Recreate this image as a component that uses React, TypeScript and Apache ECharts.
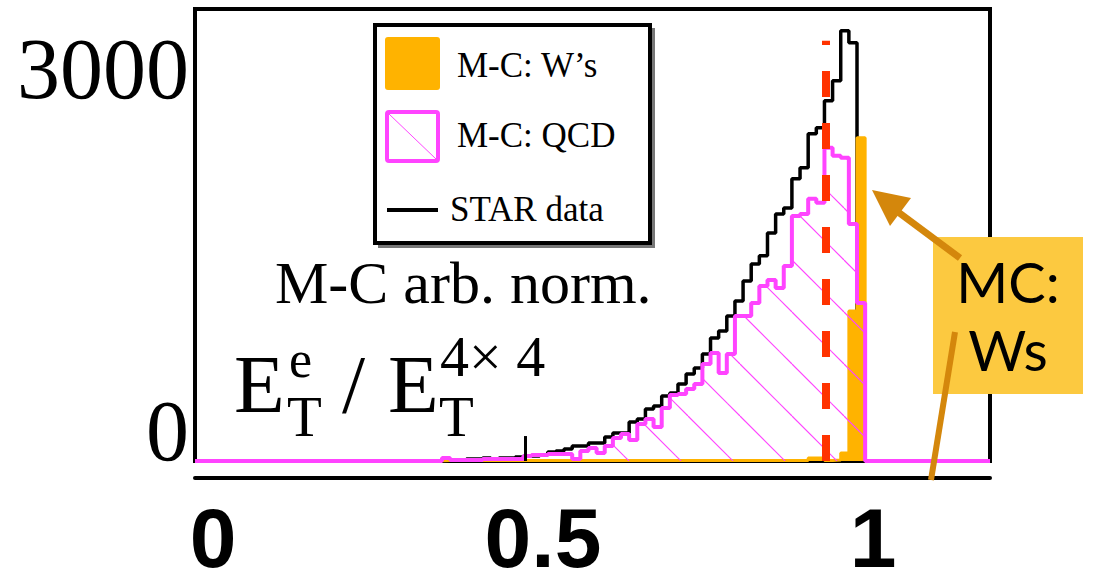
import React, { useEffect, useRef } from 'react';
import * as echarts from 'echarts';

// ---- data ----
const BIN_WIDTH = 0.0125;
const FIRST_BIN = 28; // lower edge of first listed bin = FIRST_BIN * BIN_WIDTH

// STAR data, bins 28..79
const DATA_COUNTS = [
  0, 8, 8, 8, 17, 17, 25, 17, 25, 25, 33, 42, 42, 50, 75, 83, 100, 125, 125, 149,
  149, 199, 232, 232, 324, 349, 432, 457, 540, 564, 639, 722, 772, 888, 1021, 1079,
  1204, 1328, 1494, 1635, 1702, 1892, 2050, 2100, 2341, 2432, 2714, 2764, 2988, 3154,
  3569, 3469,
];

// M-C QCD, bins 28..80
const QCD_COUNTS = [
  0, 25, 8, 8, 8, 8, 17, 17, 17, 17, 17, 42, 50, 50, 58, 58, 58, 17, 83, 108,
  66, 125, 191, 224, 174, 307, 349, 282, 440, 548, 556, 598, 639, 805, 896, 730,
  888, 1203, 1203, 1311, 1452, 1502, 1436, 1618, 2033, 2050, 2175, 2142, 2598, 2532,
  2515, 1967, 1311,
];

// M-C W's, bins 28..80
const W_COUNTS = [
  0, 4, 4, 4, 4, 4, 4, 4, 4, 4, 4, 4, 4, 4, 4, 4, 4, 4, 4, 4,
  4, 4, 4, 4, 4, 4, 4, 4, 4, 4, 4, 4, 4, 4, 4, 4, 4, 4, 4, 4,
  4, 4, 4, 4, 4, 4, 25, 25, 4, 8, 66, 1245, 2681,
];

const X_TICKS = [0, 0.5, 1];
const Y_TICKS = [0, 3000];
const CUT_VALUE = 0.952;
const CUT_TOP = 3486;
const SPIKE_X = 0.49;
const SPIKE_TOP = 207;
const LEGEND_LABELS = ['M-C: W\u2019s', 'M-C: QCD', 'STAR data'];
const NORM_TEXT = 'M-C arb. norm.';
const NOTE_TEXT = 'MC:\nWs';

// axis extents
const X_MIN = -0.0169;
const X_MAX = 1.2043;
const LABEL_X_MIN = -0.02727;
const LABEL_X_MAX = 1.1773;
const Y_MAX = 3750;

const ORANGE = '#ffb300';
const PINK = '#ff44ff';
const RED = '#ff3300';
const ARROW = '#d4870c';
const SERIF = '"Liberation Serif", "Times New Roman", serif';

function histPoints(counts: number[]): number[][] {
  const pts: number[][] = [[X_MIN, 0]];
  counts.forEach((c, i) => {
    pts.push([+((FIRST_BIN + i) * BIN_WIDTH).toFixed(5), c]);
  });
  pts.push([+((FIRST_BIN + counts.length) * BIN_WIDTH).toFixed(5), 0]);
  pts.push([X_MAX, 0]);
  return pts;
}

function makeHatch() {
  const size = 52;
  const c = document.createElement('canvas');
  c.width = size;
  c.height = size;
  const ctx = c.getContext('2d');
  if (ctx) {
    ctx.strokeStyle = PINK;
    ctx.lineWidth = 1.2;
    for (const o of [-size, 0, size]) {
      ctx.beginPath();
      ctx.moveTo(12 + o, 0);
      ctx.lineTo(12 + o + size, size);
      ctx.stroke();
    }
  }
  return { image: c, repeat: 'repeat', imageWidth: size, imageHeight: size };
}

function txt(text: string, x: number, y: number, font: string, extra: any = {}) {
  return {
    type: 'text',
    z: 130,
    style: {
      text,
      x,
      y,
      font,
      fill: '#000',
      align: 'left',
      verticalAlign: 'middle',
      textAlign: 'left',
      textVerticalAlign: 'middle',
      ...extra,
    },
  };
}

export default function App() {
  const ref = useRef<HTMLDivElement>(null);

  useEffect(() => {
    if (!ref.current) return;
    const chart = echarts.init(ref.current, undefined, { renderer: 'svg' });

    const option: any = {
      animation: false,
      backgroundColor: '#fff',
      grid: {
        left: 195,
        right: 104,
        top: 9,
        bottom: 123,
        show: true,
        borderColor: '#000',
        borderWidth: 4,
        backgroundColor: 'transparent',
      },
      xAxis: [
        {
          type: 'value',
          min: X_MIN,
          max: X_MAX,
          show: false,
        },
        {
          type: 'value',
          min: LABEL_X_MIN,
          max: LABEL_X_MAX,
          position: 'bottom',
          offset: 17,
          axisLine: { show: true, lineStyle: { color: '#000', width: 4 } },
          axisTick: { show: false },
          splitLine: { show: false },
          axisLabel: {
            customValues: X_TICKS,
            formatter: (v: number) => String(v),
            fontFamily: '"Liberation Sans", Arial, sans-serif',
            fontWeight: 'bold',
            fontSize: 84,
            lineHeight: 68,
            color: '#000',
            margin: 26,
          },
        },
      ],
      yAxis: {
        type: 'value',
        min: 0,
        max: Y_MAX,
        axisLine: { show: false },
        axisTick: { show: false },
        splitLine: { show: false },
        axisLabel: {
          customValues: Y_TICKS,
          formatter: (v: number) => String(v),
          fontFamily: SERIF,
          fontSize: 86,
          lineHeight: 60,
          verticalAlign: 'bottom',
          color: '#000',
          margin: 6,
        },
      },
      series: [
        {
          name: 'STAR data',
          type: 'line',
          xAxisIndex: 0,
          step: 'end',
          symbol: 'none',
          z: 2,
          data: histPoints(DATA_COUNTS),
          lineStyle: { color: '#000', width: 3.5 },
          emphasis: { disabled: true },
          markLine: {
            silent: true,
            symbol: ['none', 'none'],
            label: { show: false },
            lineStyle: { color: '#000', width: 3, type: 'solid' },
            emphasis: { disabled: true },
            data: [[{ coord: [SPIKE_X, 0] }, { coord: [SPIKE_X, SPIKE_TOP] }]],
          },
        },
        {
          name: 'M-C: W\u2019s',
          type: 'line',
          xAxisIndex: 0,
          step: 'end',
          symbol: 'none',
          z: 3,
          data: histPoints(W_COUNTS),
          lineStyle: { color: ORANGE, width: 3 },
          areaStyle: { color: ORANGE, opacity: 1 },
          emphasis: { disabled: true },
        },
        {
          name: 'M-C: QCD',
          type: 'line',
          xAxisIndex: 0,
          step: 'end',
          symbol: 'none',
          z: 4,
          data: histPoints(QCD_COUNTS),
          lineStyle: { color: PINK, width: 4 },
          areaStyle: { color: makeHatch(), opacity: 1 },
          emphasis: { disabled: true },
          markLine: {
            silent: true,
            symbol: ['none', 'none'],
            label: { show: false },
            lineStyle: { color: RED, width: 8, type: [26, 26], cap: 'butt' },
            emphasis: { disabled: true },
            data: [[{ coord: [CUT_VALUE, 0] }, { coord: [CUT_VALUE, CUT_TOP] }]],
          },
        },
      ],
      graphic: {
        elements: [
          // legend box
          { type: 'rect', z: 100, shape: { x: 378, y: 28, width: 277, height: 220 }, style: { fill: '#777' } },
          { type: 'rect', z: 101, shape: { x: 375, y: 25, width: 275, height: 218 }, style: { fill: '#fff', stroke: '#000', lineWidth: 4 } },
          { type: 'rect', z: 102, shape: { x: 385, y: 37, width: 55, height: 53, r: 3 }, style: { fill: ORANGE } },
          { type: 'rect', z: 102, shape: { x: 387, y: 112, width: 51, height: 49, r: 2 }, style: { fill: '#fff', stroke: PINK, lineWidth: 4 } },
          { type: 'line', z: 103, shape: { x1: 389, y1: 114, x2: 436, y2: 159 }, style: { stroke: PINK, lineWidth: 1 } },
          { type: 'line', z: 102, shape: { x1: 387, y1: 210, x2: 438, y2: 210 }, style: { stroke: '#000', lineWidth: 4 } },
          txt(LEGEND_LABELS[0], 457, 65, `35px ${SERIF}`),
          txt(LEGEND_LABELS[1], 457, 135, `35px ${SERIF}`),
          txt(LEGEND_LABELS[2], 450, 209, `35px ${SERIF}`),
          // normalisation note
          txt(NORM_TEXT, 275, 283, `60px ${SERIF}`),
          // E_T^e / E_T^{4x4}
          txt('E', 234, 384, `83px ${SERIF}`),
          txt('T', 287, 416, `57px ${SERIF}`),
          txt('e', 289, 359, `52px ${SERIF}`),
          txt('/', 342, 384, `83px ${SERIF}`),
          txt('E', 388, 384, `83px ${SERIF}`),
          txt('T', 439, 416, `57px ${SERIF}`),
          txt('4\u00d7 4', 440, 356, `58px ${SERIF}`),
          // MC: Ws call-out
          { type: 'rect', z: 110, shape: { x: 933, y: 237, width: 150, height: 157 }, style: { fill: '#fcc940' } },
          txt(NOTE_TEXT, 1008, 315, `56px Lato, "Open Sans", sans-serif`, { align: 'center', textAlign: 'center', lineHeight: 68 }),
          { type: 'line', z: 120, shape: { x1: 960, y1: 258, x2: 890, y2: 206 }, style: { stroke: ARROW, lineWidth: 7 } },
          { type: 'polygon', z: 120, shape: { points: [[872, 190], [890, 226], [911, 198]] }, style: { fill: ARROW } },
          { type: 'line', z: 120, shape: { x1: 955, y1: 332, x2: 931, y2: 480 }, style: { stroke: ARROW, lineWidth: 6 } },
        ],
      },
    };

    chart.setOption(option);
    return () => chart.dispose();
  }, []);

  return (
    <div
      ref={ref}
      style={{ position: 'absolute', left: 0, top: 0, width: 1094, height: 584 }}
    />
  );
}
